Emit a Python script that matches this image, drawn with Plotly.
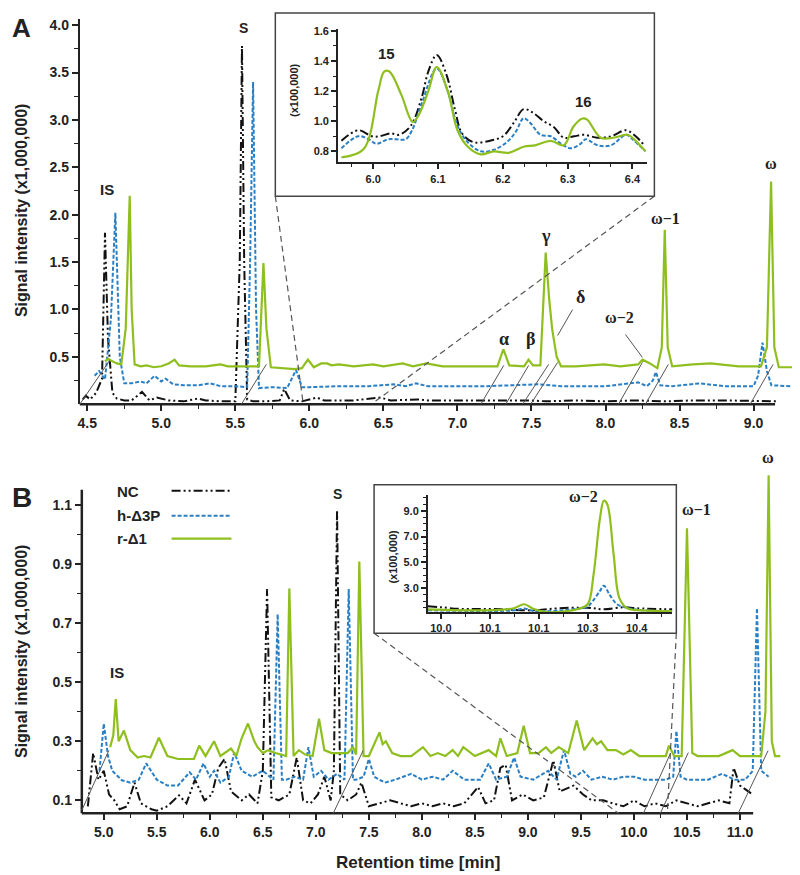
import plotly.graph_objects as go

# ---------------- DATA ----------------
# Panel A main chromatogram (x: retention time [min], y: intensity x1,000,000)
A_NC = [(4.47,0.05),(4.49,0.09),(4.52,0.05),(4.56,0.12),(4.60,0.27),(4.62,1.81),(4.64,0.7),(4.67,0.12),
        (4.70,0.06),(4.75,0.04),(4.80,0.04),(4.87,0.13),(4.92,0.04),(4.97,0.07),(5.05,0.04),(5.15,0.03),
        (5.25,0.06),(5.30,0.04),(5.40,0.03),(5.50,0.03),(5.53,1.5),(5.545,3.78),(5.56,1.5),(5.58,0.05),
        (5.62,0.03),(5.70,0.03),(5.80,0.04),(5.83,0.16),(5.87,0.04),(5.95,0.03),(6.05,0.07),(6.10,0.04),
        (6.30,0.04),(6.48,0.07),(6.55,0.04),(6.73,0.05),(6.80,0.04),(7.00,0.04),(7.20,0.04),(7.48,0.04),
        (7.60,0.03),(7.80,0.04),(8.00,0.03),(8.20,0.04),(8.40,0.03),(8.60,0.04),(8.80,0.04),(9.00,0.03),(9.15,0.03)]
A_H3P = [(4.55,0.30),(4.58,0.35),(4.62,0.26),(4.66,0.9),(4.69,2.02),(4.72,0.5),(4.75,0.22),(4.80,0.22),
         (4.86,0.24),(4.90,0.22),(4.955,0.30),(5.00,0.24),(5.03,0.27),(5.08,0.21),(5.15,0.20),(5.25,0.20),
         (5.33,0.22),(5.40,0.19),(5.50,0.19),(5.58,0.18),(5.60,1.5),(5.62,3.40),(5.64,1.0),(5.66,0.17),
         (5.75,0.18),(5.85,0.17),(5.91,0.36),(5.95,0.18),(6.00,0.18),(6.20,0.19),(6.40,0.19),(6.57,0.21),
         (6.65,0.19),(6.72,0.22),(6.80,0.19),(7.00,0.19),(7.20,0.19),(7.54,0.21),(7.70,0.19),(8.00,0.19),
         (8.22,0.23),(8.28,0.19),(8.32,0.25),(8.34,0.34),(8.37,0.20),(8.45,0.19),(8.64,0.22),(8.80,0.19),
         (9.00,0.19),(9.03,0.30),(9.06,0.65),(9.09,0.35),(9.12,0.20),(9.25,0.19)]
A_RD1 = [(4.62,0.45),(4.64,0.48),(4.66,0.46),(4.70,0.43),(4.73,0.42),(4.76,0.8),(4.787,2.2),(4.80,1.0),
         (4.82,0.42),(4.86,0.40),(4.90,0.41),(4.95,0.39),(5.00,0.40),(5.05,0.43),(5.09,0.47),(5.12,0.41),
         (5.20,0.40),(5.30,0.40),(5.35,0.41),(5.40,0.42),(5.45,0.40),(5.50,0.40),(5.60,0.40),(5.66,0.40),
         (5.69,1.49),(5.71,0.8),(5.74,0.39),(5.80,0.38),(5.90,0.37),(5.95,0.38),(5.99,0.47),(6.03,0.39),
         (6.08,0.43),(6.12,0.43),(6.15,0.41),(6.20,0.42),(6.30,0.40),(6.43,0.42),(6.50,0.40),(6.63,0.43),
         (6.70,0.40),(6.79,0.43),(6.90,0.40),(7.10,0.40),(7.27,0.40),(7.31,0.58),(7.35,0.41),(7.45,0.40),
         (7.48,0.47),(7.51,0.41),(7.56,0.41),(7.596,1.60),(7.62,1.1),(7.64,0.79),(7.67,0.50),(7.70,0.40),
         (7.80,0.40),(7.99,0.42),(8.10,0.40),(8.22,0.42),(8.25,0.47),(8.30,0.43),(8.35,0.38),(8.38,0.6),
         (8.40,1.84),(8.42,0.6),(8.45,0.40),(8.59,0.42),(8.71,0.43),(8.90,0.40),(9.05,0.40),(9.09,0.6),
         (9.118,2.35),(9.14,0.6),(9.17,0.39),(9.30,0.39)]

# Panel A inset (x100,000)
AI_NC = [(5.951,0.87),(5.977,0.94),(5.998,0.90),(6.01,0.90),(6.027,0.92),(6.04,0.91),(6.058,0.97),
         (6.075,1.16),(6.085,1.33),(6.098,1.44),(6.113,1.31),(6.126,1.08),(6.137,0.92),(6.155,0.86),
         (6.18,0.87),(6.20,0.90),(6.217,0.99),(6.232,1.08),(6.245,1.06),(6.263,1.00),(6.279,0.96),
         (6.294,0.89),(6.31,0.90),(6.325,0.91),(6.346,0.89),(6.367,0.90),(6.39,0.94),(6.405,0.90),(6.418,0.84)]
AI_H3P = [(5.951,0.82),(5.977,0.90),(5.993,0.88),(6.005,0.85),(6.023,0.88),(6.036,0.88),(6.05,0.88),
          (6.06,0.94),(6.075,1.12),(6.098,1.35),(6.115,1.20),(6.13,0.97),(6.146,0.86),(6.166,0.80),
          (6.186,0.81),(6.206,0.86),(6.22,0.93),(6.232,1.02),(6.242,0.99),(6.258,0.91),(6.274,0.90),
          (6.29,0.85),(6.305,0.82),(6.32,0.85),(6.328,0.88),(6.346,0.84),(6.367,0.84),(6.39,0.91),
          (6.40,0.88),(6.42,0.80)]
AI_RD1 = [(5.951,0.76),(5.985,0.813),(6.008,1.205),(6.017,1.33),(6.025,1.33),(6.043,1.18),(6.061,0.995),
          (6.07,1.04),(6.085,1.20),(6.098,1.36),(6.115,1.20),(6.13,0.94),(6.146,0.83),(6.166,0.78),
          (6.186,0.80),(6.209,0.79),(6.232,0.83),(6.25,0.84),(6.274,0.87),(6.294,0.84),(6.309,0.965),
          (6.323,1.018),(6.33,1.01),(6.351,0.89),(6.37,0.89),(6.392,0.91),(6.40,0.89),(6.42,0.80)]

# Panel B main chromatogram
B_NC = [(4.85,0.08),(4.90,0.26),(4.95,0.17),(5.00,0.20),(5.05,0.12),(5.10,0.10),(5.15,0.07),(5.22,0.08),
        (5.29,0.16),(5.35,0.09),(5.45,0.07),(5.50,0.065),(5.60,0.08),(5.71,0.117),(5.78,0.09),(5.86,0.17),
        (5.95,0.10),(6.02,0.12),(6.08,0.21),(6.14,0.24),(6.20,0.13),(6.30,0.10),(6.37,0.12),(6.45,0.09),
        (6.50,0.20),(6.54,0.815),(6.58,0.11),(6.65,0.10),(6.75,0.12),(6.82,0.245),(6.88,0.10),(6.95,0.09),
        (7.02,0.12),(7.08,0.18),(7.14,0.10),(7.17,0.20),(7.20,1.083),(7.23,0.12),(7.30,0.10),(7.38,0.12),
        (7.43,0.16),(7.50,0.08),(7.60,0.09),(7.70,0.10),(7.80,0.09),(7.90,0.08),(8.00,0.09),(8.10,0.08),
        (8.20,0.09),(8.30,0.08),(8.40,0.09),(8.53,0.145),(8.60,0.09),(8.68,0.10),(8.74,0.21),(8.79,0.22),
        (8.85,0.10),(8.95,0.12),(9.05,0.10),(9.15,0.11),(9.24,0.235),(9.30,0.13),(9.43,0.15),(9.52,0.12),
        (9.60,0.10),(9.71,0.10),(9.80,0.09),(9.90,0.08),(10.00,0.10),(10.10,0.08),(10.20,0.09),(10.30,0.08),
        (10.40,0.10),(10.50,0.09),(10.60,0.08),(10.70,0.09),(10.80,0.10),(10.90,0.09),(10.94,0.21),
        (11.00,0.15),(11.12,0.12)]
B_H3P = [(4.96,0.20),(5.00,0.36),(5.04,0.25),(5.08,0.20),(5.17,0.168),(5.25,0.16),(5.33,0.17),(5.40,0.225),
         (5.50,0.17),(5.60,0.15),(5.70,0.15),(5.81,0.195),(5.87,0.17),(5.94,0.225),(6.00,0.18),(6.04,0.20),
         (6.10,0.16),(6.18,0.18),(6.23,0.262),(6.30,0.20),(6.40,0.18),(6.50,0.20),(6.60,0.17),(6.64,0.73),
         (6.68,0.17),(6.72,0.17),(6.80,0.18),(6.88,0.17),(6.93,0.28),(6.98,0.18),(7.05,0.20),(7.12,0.17),
         (7.20,0.19),(7.27,0.17),(7.31,0.815),(7.35,0.17),(7.38,0.17),(7.45,0.18),(7.50,0.24),(7.55,0.18),
         (7.65,0.16),(7.75,0.17),(7.90,0.19),(8.00,0.17),(8.10,0.18),(8.20,0.17),(8.29,0.20),(8.40,0.17),
         (8.55,0.17),(8.63,0.225),(8.70,0.17),(8.80,0.18),(8.87,0.245),(8.93,0.18),(9.05,0.17),(9.19,0.20),
         (9.27,0.17),(9.34,0.27),(9.40,0.19),(9.45,0.18),(9.52,0.20),(9.60,0.17),(9.70,0.18),(9.80,0.17),
         (9.90,0.18),(10.00,0.18),(10.10,0.17),(10.20,0.17),(10.30,0.17),(10.37,0.18),(10.40,0.335),
         (10.44,0.18),(10.50,0.17),(10.60,0.17),(10.70,0.17),(10.83,0.19),(10.95,0.17),(11.05,0.17),
         (11.12,0.20),(11.16,0.75),(11.20,0.20),(11.27,0.18)]
B_RD1 = [(5.06,0.28),(5.09,0.32),(5.113,0.443),(5.14,0.30),(5.19,0.336),(5.25,0.27),(5.32,0.245),(5.38,0.25),
         (5.44,0.245),(5.52,0.312),(5.60,0.25),(5.70,0.24),(5.85,0.24),(5.90,0.285),(5.96,0.25),(6.04,0.30),
         (6.10,0.25),(6.20,0.275),(6.25,0.25),(6.30,0.31),(6.36,0.36),(6.42,0.30),(6.45,0.28),(6.50,0.26),
         (6.55,0.27),(6.62,0.26),(6.72,0.25),(6.75,0.817),(6.79,0.25),(6.84,0.27),(6.90,0.255),(6.97,0.25),
         (7.03,0.376),(7.08,0.27),(7.15,0.26),(7.30,0.26),(7.35,0.28),(7.38,0.255),(7.41,0.908),(7.45,0.25),
         (7.50,0.25),(7.60,0.33),(7.63,0.29),(7.66,0.30),(7.72,0.26),(7.80,0.25),(7.90,0.25),(8.01,0.28),
         (8.08,0.25),(8.15,0.26),(8.22,0.25),(8.29,0.27),(8.34,0.25),(8.39,0.28),(8.50,0.25),(8.63,0.27),
         (8.70,0.25),(8.74,0.31),(8.80,0.25),(8.90,0.26),(8.96,0.352),(9.02,0.26),(9.10,0.26),(9.17,0.28),
         (9.22,0.26),(9.29,0.28),(9.38,0.26),(9.46,0.37),(9.53,0.27),(9.61,0.31),(9.65,0.29),(9.69,0.30),
         (9.75,0.27),(9.83,0.27),(9.90,0.255),(9.97,0.27),(10.05,0.25),(10.20,0.25),(10.30,0.25),(10.33,0.285),
         (10.38,0.25),(10.45,0.25),(10.50,1.02),(10.55,0.26),(10.60,0.25),(10.80,0.25),(10.93,0.27),
         (11.00,0.25),(11.20,0.25),(11.24,0.40),(11.27,1.20),(11.30,0.30),(11.33,0.25),(11.38,0.25)]

# Panel B inset (x100,000)
BI_NC = [(9.9735,1.62),(10.0,1.54),(10.04,1.41),(10.11,1.41),(10.19,1.30),(10.24,1.46),(10.30,1.50),
         (10.333,1.38),(10.373,1.54),(10.40,1.46),(10.473,1.38)]
BI_H3P = [(9.9735,1.31),(10.15,1.30),(10.17,1.45),(10.19,1.25),(10.27,1.38),(10.30,1.60),(10.31,2.0),
          (10.325,2.8),(10.333,3.2),(10.345,2.5),(10.36,1.77),(10.38,1.50),(10.41,1.31),(10.473,1.23)]
BI_RD1 = [(9.9735,1.38),(10.108,1.31),(10.149,1.46),(10.17,1.77),(10.19,1.40),(10.218,1.15),(10.25,1.20),
          (10.28,1.40),(10.30,1.77),(10.312,4.08),(10.325,8.4),(10.333,9.77),(10.34,9.5),(10.353,5.6),
          (10.365,2.23),(10.381,1.46),(10.41,1.30),(10.473,1.23)]

A_XTICKS = [4.5, 5.0, 5.5, 6.0, 6.5, 7.0, 7.5, 8.0, 8.5, 9.0]
A_YTICKS = [0.5, 1.0, 1.5, 2.0, 2.5, 3.0, 3.5, 4.0]
AI_XTICKS = [6.0, 6.1, 6.2, 6.3, 6.4]
AI_YTICKS = [0.8, 1.0, 1.2, 1.4, 1.6]
B_XTICKS = [5.0, 5.5, 6.0, 6.5, 7.0, 7.5, 8.0, 8.5, 9.0, 9.5, 10.0, 10.5, 11.0]
B_YTICKS = [0.1, 0.3, 0.5, 0.7, 0.9, 1.1]
BI_XTICKS = [10.0, 10.1, 10.2, 10.3, 10.4]
BI_XTEXT = ["10.0", "10.1", "10.1", "10.3", "10.4"]
BI_YTICKS = [3.0, 5.0, 7.0, 9.0]

SERIES = ["NC", "h-\u03943P", "r-\u03941"]

# ---------------- STYLE ----------------
W, H = 800, 875
OFF = 8  # page body margin offset of the embedded figure
def PX(x): return (x - OFF) / W
def PY(y): return 1 - (y - OFF) / H

GREEN = "#8fbf1f"
BLUE = "#2a7fc4"
BLACK = "#111111"
STYLES = {
    "NC": dict(color=BLACK, width=2, dash="9px,3px,2px,3px,2px,3px"),
    "h-\u03943P": dict(color=BLUE, width=2, dash="4px,2px"),
    "r-\u03941": dict(color=GREEN, width=2.2),
}
SANS = "Liberation Sans, Arial, sans-serif"
SERIF = "Liberation Serif, Times New Roman, serif"

fig = go.Figure()

def add(series, name, xa, ya, shape="linear"):
    xs = [p[0] for p in series]
    ys = [p[1] for p in series]
    fig.add_trace(go.Scatter(x=xs, y=ys, mode="lines", name=name, xaxis=xa, yaxis=ya,
                             line=dict(shape=shape, **STYLES[name]), showlegend=False,
                             hoverinfo="skip"))

for s, n in zip([A_NC, A_H3P, A_RD1], SERIES):
    add(s, n, "x", "y")
for s, n in zip([AI_NC, AI_H3P, AI_RD1], SERIES):
    add(s, n, "x2", "y2", "spline")
for s, n in zip([B_NC, B_H3P, B_RD1], SERIES):
    add(s, n, "x3", "y3")
for s, n in zip([BI_NC, BI_H3P, BI_RD1], SERIES):
    add(s, n, "x4", "y4", "spline")

tickfont = dict(family=SANS, size=14, color="#222", weight="bold")
smallfont = dict(family=SANS, size=11, color="#222", weight="bold")

def axis(domain, rng, tickvals, fmt, font, minor_vals=None, showline=False, anchor=None,
         ticktext=None, ticklen=6):
    d = dict(domain=domain, range=rng, tickmode="array", tickvals=tickvals,
             ticktext=ticktext if ticktext else [fmt.format(v) for v in tickvals],
             ticks="outside", ticklen=ticklen, tickwidth=1.5, tickcolor="#222",
             showgrid=False, zeroline=False, showline=showline, linecolor="#222", linewidth=2,
             tickfont=font, anchor=anchor, fixedrange=True)
    if minor_vals is not None:
        d["minor"] = dict(tickmode="array", tickvals=minor_vals, ticks="outside",
                          ticklen=max(ticklen - 2, 2), tickwidth=1, tickcolor="#222")
    return d

def frange(a, b, step):
    out, v = [], a
    while v <= b + 1e-9:
        out.append(round(v, 4))
        v += step
    return out

def dom_x(a, b): return [max(PX(a), 0), min(PX(b), 1)]
def dom_y(bottom, top): return [max(PY(bottom), 0), min(PY(top), 1)]

fig.update_layout(
    width=W, height=H, autosize=False,
    margin=dict(l=0, r=0, t=0, b=0),
    paper_bgcolor="white", plot_bgcolor="rgba(0,0,0,0)",
    xaxis=axis(dom_x(78, 798), [4.45, 9.30], A_XTICKS, "{:.1f}", tickfont,
               frange(4.5, 9.0, 0.25), anchor="y"),
    yaxis=axis(dom_y(402, 15), [0, 4.065], A_YTICKS, "{:.1f}", tickfont,
               frange(0.25, 4.0, 0.25), showline=True, anchor="x"),
    xaxis2=axis(dom_x(337, 647), [5.946, 6.423], AI_XTICKS, "{:.1f}", smallfont,
                frange(5.9667, 6.41, 0.1 / 3), showline=True, anchor="y2", ticklen=5),
    yaxis2=axis(dom_y(159, 25), [0.727, 1.613], AI_YTICKS, "{:.1f}", smallfont,
                frange(0.8, 1.6, 0.1), showline=True, anchor="x2", ticklen=5),
    xaxis3=axis(dom_x(80, 800), [4.793, 11.566], B_XTICKS, "{:.1f}", tickfont,
                frange(5.0, 11.0, 0.25), anchor="y3"),
    yaxis3=axis(dom_y(813, 455), [0.0562, 1.2616], B_YTICKS, "{:.1f}", tickfont,
                frange(0.1, 1.1, 0.1), anchor="x3"),
    xaxis4=axis(dom_x(427, 672), [9.9735, 10.473], BI_XTICKS, "{:.1f}", smallfont,
                frange(10.0, 10.45, 0.05), showline=True, anchor="y4", ticktext=BI_XTEXT, ticklen=5),
    yaxis4=axis(dom_y(611, 493), [1.154, 10.23], BI_YTICKS, "{:.1f}", smallfont,
                frange(1.5, 10.0, 0.5), showline=True, anchor="x4", ticklen=5),
)

shapes = []
def pline(x0, y0, x1, y1, color="#555", width=1, dash=None):
    ln = dict(color=color, width=width)
    if dash:
        ln["dash"] = dash
    shapes.append(dict(type="line", xref="paper", yref="paper",
                       x0=PX(x0), y0=PY(y0), x1=PX(x1), y1=PY(y1), line=ln))

# inset boxes
for (x0, y0, x1, y1) in [(274, 8, 654, 193), (373, 482, 676, 632)]:
    shapes.append(dict(type="rect", xref="paper", yref="paper", x0=PX(x0), y0=PY(y1),
                       x1=PX(x1), y1=PY(y0 + 1), line=dict(color="#444", width=1.5),
                       fillcolor="white", layer="below"))
# main axis lines
pline(78, 402, 775, 402, "#222", 2.5)
pline(80, 813, 753, 813, "#222", 2.5)
pline(80, 813, 80, 488, "#222", 2.5)
# zoom guide lines
pline(274, 193, 302, 402, "#555", 1.2, "6px,4px")
pline(654, 193, 373, 400, "#555", 1.2, "6px,4px")
pline(373, 632, 618, 813, "#555", 1.2, "6px,4px")
pline(676, 632, 667, 813, "#555", 1.2, "6px,4px")
# leader lines panel A
for seg in [(78, 402, 108, 358), (240, 402, 265, 362), (480, 402, 503, 363), (505, 402, 528, 363),
            (522, 402, 548, 362), (530, 402, 557, 360), (557, 333, 572, 307), (625, 332, 642, 355),
            (618, 402, 642, 360), (645, 402, 668, 362), (750, 402, 773, 362)]:
    pline(*seg)
# leader lines panel B
for seg in [(80, 810, 107, 750), (332, 813, 362, 750), (643, 813, 670, 753),
            (660, 813, 688, 752), (738, 813, 768, 750)]:
    pline(*seg)
# legend sample lines
for name, yy in zip(SERIES, [489, 514, 537]):
    st = STYLES[name]
    pline(170, yy, 230, yy, st["color"], st["width"], st.get("dash"))
fig.update_layout(shapes=shapes)

anns = []
def txt(x, y, s, size=14, family=SANS, bold=True, angle=0, xanchor="center", color="#222"):
    anns.append(dict(xref="paper", yref="paper", x=PX(x), y=PY(y), text=s, showarrow=False,
                     xanchor=xanchor, yanchor="middle", textangle=angle,
                     font=dict(family=family, size=size, color=color,
                               weight="bold" if bold else "normal")))

txt(8, 24, "A", 26, xanchor="left")
txt(8, 496, "B", 28, xanchor="left")
txt(19, 207, "Signal intensity (x1,000,000)", 16, angle=-90)
txt(19, 650, "Signal intensity (x1,000,000)", 16, angle=-90)
txt(417, 862, "Retention time [min]", 17)
txt(292, 86, "(x100,000)", 11, angle=-90)
txt(392, 555, "(x100,000)", 11, angle=-90)
txt(242, 24, "S", 14)
txt(105, 186, "IS", 15)
txt(385, 50, "15", 15)
txt(583, 98, "16", 15)
txt(503, 337, "\u03b1", 18, SERIF)
txt(530, 337, "\u03b2", 18, SERIF)
txt(545, 233, "\u03b3", 18, SERIF)
txt(580, 294, "\u03b4", 18, SERIF)
txt(619, 315, "\u03c9\u22122", 16, SERIF)
txt(665, 215, "\u03c9\u22121", 16, SERIF)
txt(771, 160, "\u03c9", 16, SERIF)
txt(336, 492, "S", 14)
txt(115, 672, "IS", 15)
txt(768, 456, "\u03c9", 16, SERIF)
txt(696, 508, "\u03c9\u22121", 16, SERIF)
txt(583, 495, "\u03c9\u22122", 16, SERIF)
for name, yy in zip(SERIES, [490, 514, 537]):
    txt(113, yy, name, 15, xanchor="left")
fig.update_layout(annotations=anns)

fig.write_html("out.html")
